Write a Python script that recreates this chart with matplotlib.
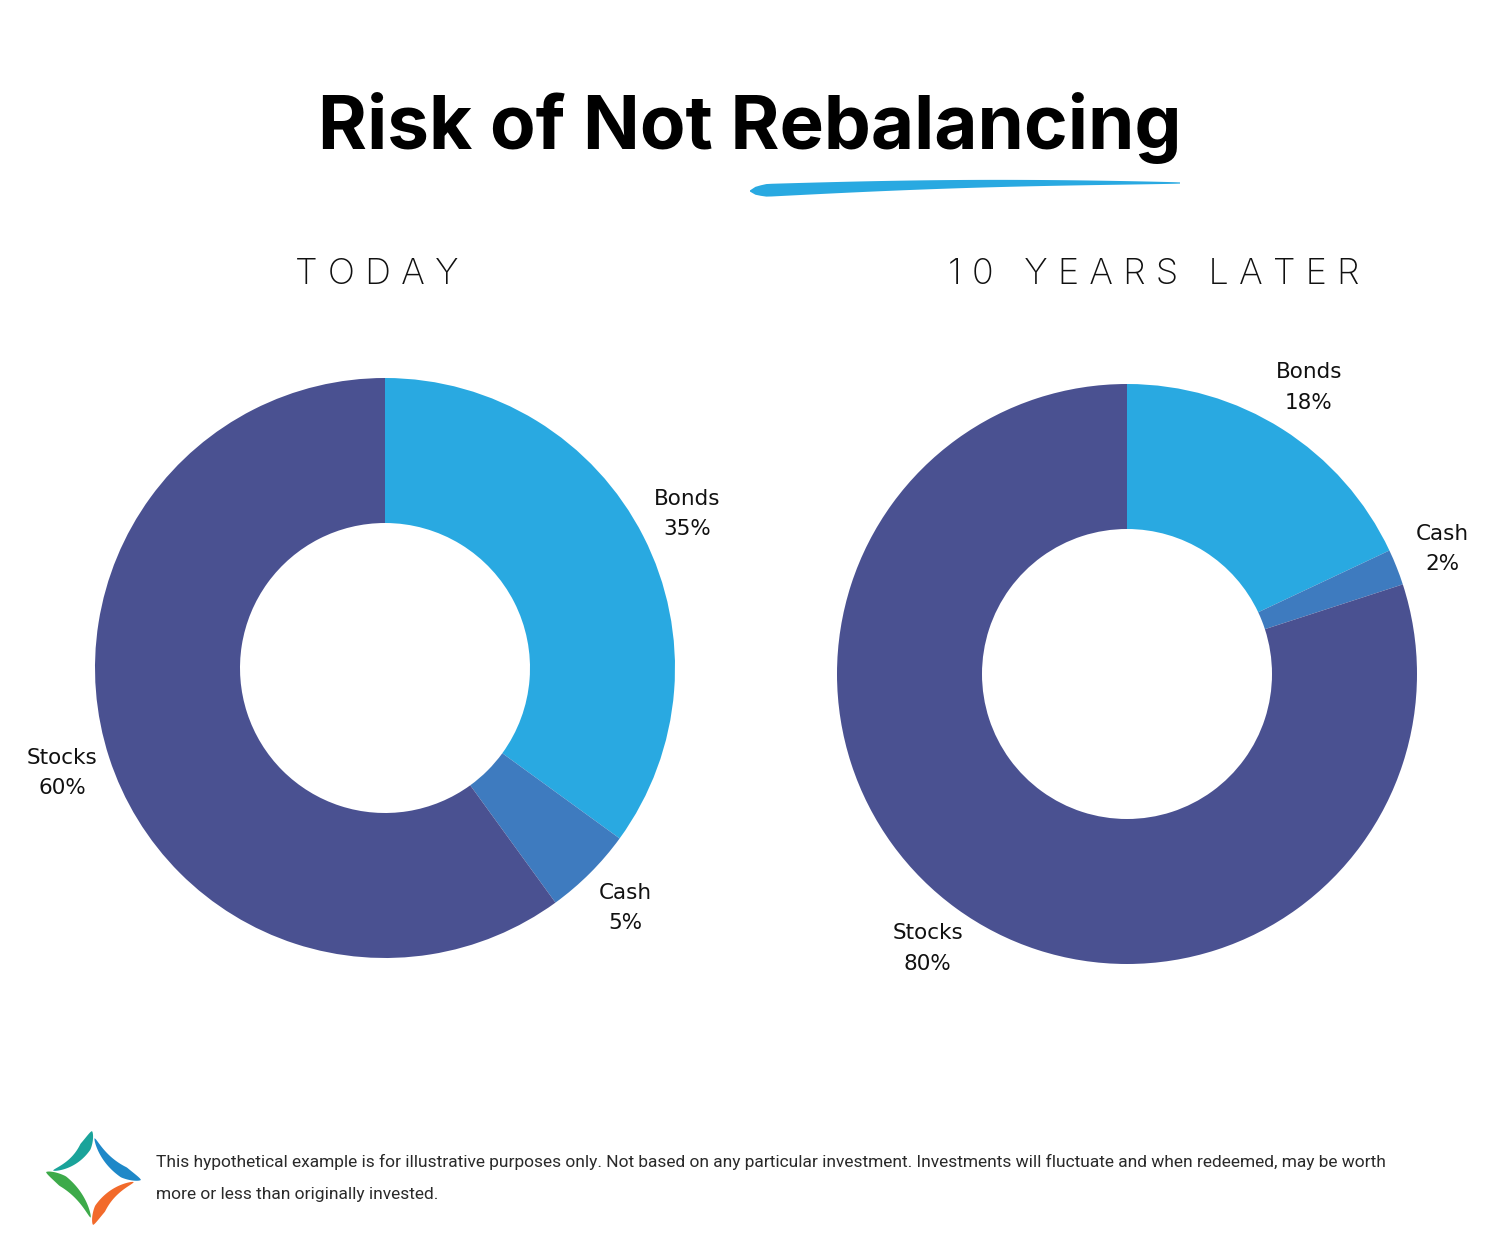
import matplotlib.pyplot as plt
import numpy as np

W, H = 1500, 1257

labels = ["Bonds", "Cash", "Stocks"]
today = [35, 5, 60]
later = [18, 2, 80]
colors = ["#29A9E1", "#3E7BBF", "#4A5191"]

title = "Risk of Not Rebalancing"
left_title = "T O D A Y"
right_title = "1 0   Y E A R S   L A T E R"
foot1 = ("This hypothetical example is for illustrative purposes only. Not based on any particular investment. "
         "Investments will fluctuate and when redeemed, may be worth")
foot2 = "more or less than originally invested."

fig = plt.figure(figsize=(W / 100, H / 100), dpi=100)
ax = fig.add_axes([0, 0, 1, 1])


def donut(values, cx, cy):
    texts = [f"{l}\n{v}%" for l, v in zip(labels, values)]
    ax.pie(values, labels=texts, colors=colors, startangle=90, counterclock=False,
           radius=290, center=(cx, H - cy), labeldistance=1.17,
           wedgeprops=dict(width=145, linewidth=0),
           textprops=dict(fontsize=15.5, family="DejaVu Sans", ha="center", va="center",
                          linespacing=1.65, color="#111111"))


donut(today, 385, 668)
donut(later, 1127, 674)

ax.set_xlim(0, W)
ax.set_ylim(0, H)
ax.set_aspect("auto")
ax.axis("off")


def fit_width(txt, target):
    # shrink/grow font so the text spans the target width in pixels
    r = fig.canvas.get_renderer()
    w = txt.get_window_extent(r).width
    txt.set_fontsize(txt.get_fontsize() * target / w)


# titles
t_main = ax.text(750, H - 128, title, ha="center", va="center", fontsize=56,
                 fontweight="bold", family="Inter", color="black")
fit_width(t_main, 864)
ax.text(377, H - 275, left_title, ha="center", va="center", fontsize=26,
        family="Inter", fontweight="light", color="#111111")
ax.text(1154, H - 275, right_title, ha="center", va="center", fontsize=26,
        family="Inter", fontweight="light", color="#111111")

# brush underline
t = np.linspace(0, 1, 80)
xs = 750 + 430 * t
ys = H - (191 - 8 * t - 3 * np.sin(np.pi * t))
hw = 6 * (1 - t) ** 0.8 * np.clip(t * 25, 0, 1) ** 0.5 + 0.6
ax.fill(np.r_[xs, xs[::-1]], np.r_[ys + hw, (ys - hw)[::-1]], color="#29A9E1", lw=0)

# logo
c = np.array([93, 1178])
tips = {"top": (92, 1131), "left": (46, 1172), "bottom": (93, 1225), "right": (141, 1180)}
arms = [("top", "left", "#1AA39A"), ("left", "bottom", "#3DAA4A"),
        ("bottom", "right", "#F26A2B"), ("right", "top", "#1E88C8")]
for a, b, col in arms:
    P = np.array(tips[a], float)
    Q = np.array(tips[b], float)
    M = (P + Q) / 2
    C = M + (c - M) * 0.55
    tt = np.linspace(0, 0.9, 50)
    pts = ((1 - tt) ** 2)[:, None] * P + (2 * (1 - tt) * tt)[:, None] * C + (tt ** 2)[:, None] * Q
    d = np.gradient(pts, axis=0)
    n = np.c_[-d[:, 1], d[:, 0]]
    n /= np.linalg.norm(n, axis=1)[:, None]
    h = 7 * np.clip(tt / 0.25, 0, 1) ** 0.7 * (1 - tt / 0.9) ** 0.6
    up = pts + n * h[:, None]
    lo = pts - n * h[:, None]
    poly = np.r_[up, lo[::-1]]
    ax.fill(poly[:, 0], H - poly[:, 1], color=col, lw=0)

f1 = ax.text(156, H - 1162, foot1, ha="left", va="center", fontsize=14,
             family="Roboto", color="#2a2a2a")
fit_width(f1, 1239)
ax.text(156, H - 1194, foot2, ha="left", va="center", fontsize=f1.get_fontsize(),
        family="Roboto", color="#2a2a2a")

fig.savefig("out.png", dpi=100, facecolor="white")
